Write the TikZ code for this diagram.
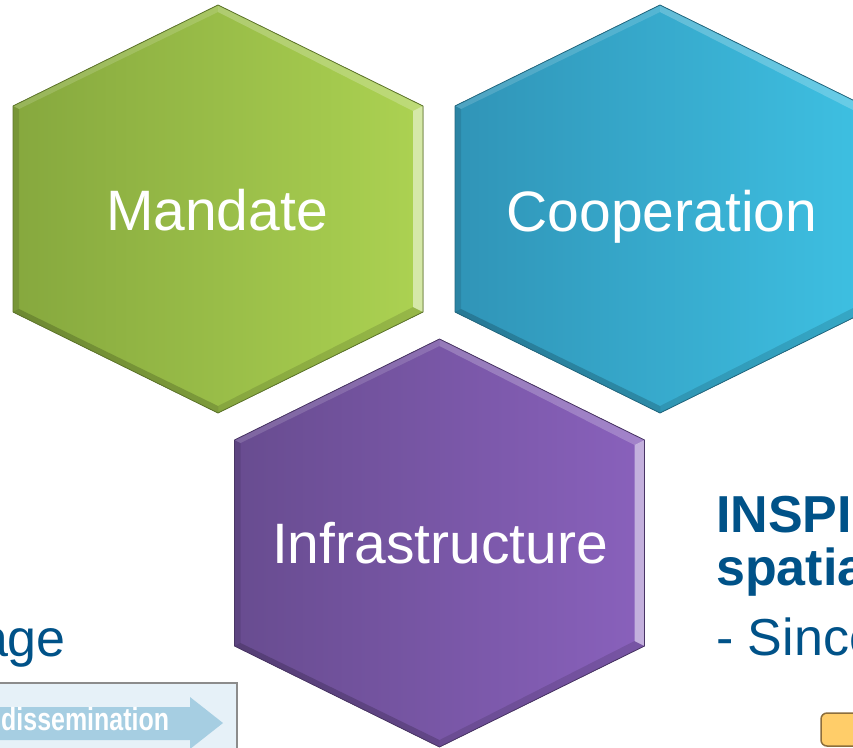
\documentclass[tikz,border=0pt]{standalone}
\usepackage{fontspec}
\setmainfont{Liberation Sans}
\definecolor{gL}{RGB}{134,168,62}
\definecolor{gR}{RGB}{172,210,82}
\definecolor{bL}{RGB}{48,148,183}
\definecolor{bR}{RGB}{62,192,226}
\definecolor{pL}{RGB}{104,76,144}
\definecolor{pR}{RGB}{137,97,188}
\definecolor{txtblue}{RGB}{0,82,136}
\definecolor{boxfill}{RGB}{230,241,248}
\definecolor{boxline}{RGB}{140,140,140}
\definecolor{arrowblue}{RGB}{166,206,226}
\definecolor{orangeF}{RGB}{255,205,105}
\definecolor{orangeD}{RGB}{140,110,60}
\newcommand\drawhex[4]{%
\begin{scope}[shift={(#1,#2)}]
 \coordinate (O1) at (0,-204);
 \coordinate (O2) at (205,-103);
 \coordinate (O3) at (205,103);
 \coordinate (O4) at (0,204);
 \coordinate (O5) at (-205,103);
 \coordinate (O6) at (-205,-103);
 \coordinate (I1) at (0,-197);
 \coordinate (I2) at (195,-98);
 \coordinate (I3) at (195,98);
 \coordinate (I4) at (0,197);
 \coordinate (I5) at (-199,100);
 \coordinate (I6) at (-199,-100);
 \fill[left color=#3,right color=#4] (O1)--(O2)--(O3)--(O4)--(O5)--(O6)--cycle;
 \fill[white,opacity=.15] (O6)--(O1)--(I1)--(I6)--cycle;
 \fill[white,opacity=.22] (O1)--(O2)--(I2)--(I1)--cycle;
 \fill[white,opacity=.5] (O2)--(O3)--(I3)--(I2)--cycle;
 \fill[black,opacity=.12] (O3)--(O4)--(I4)--(I3)--cycle;
 \fill[black,opacity=.18] (O4)--(O5)--(I5)--(I4)--cycle;
 \fill[black,opacity=.1] (O5)--(O6)--(I6)--(I5)--cycle;
 \draw[#3!70!black,line width=.8pt,line join=round] (O1)--(O2)--(O3)--(O4)--(O5)--(O6)--cycle;
\end{scope}}
\begin{document}
\begin{tikzpicture}[x=1pt,y=-1pt,
  hexlabel/.style={text=white,font=\fontsize{57}{68}\selectfont,inner sep=0pt,anchor=base},
  sidetext/.style={text=txtblue,font=\fontsize{52}{62}\selectfont,inner sep=0pt},
  sidebold/.style={sidetext,font=\fontsize{52}{62}\selectfont\bfseries}]
\useasboundingbox (0,0) rectangle (853,747);
\clip (0,0) rectangle (853,747);
\fill[white] (0,0) rectangle (853,747);
% hexagons
\drawhex{218}{209}{gL}{gR}
\drawhex{660}{209}{bL}{bR}
\drawhex{439.5}{543}{pL}{pR}
\node[hexlabel] (mandate) at (217,230) {Mandate};
\node[hexlabel] (cooperation) at (662,231) {Cooperation};
\node[hexlabel] (infrastructure) at (440,563) {Infrastructure};
% side texts
\node[sidetext,anchor=base east] (age) at (66,656) {age};
\node[sidebold,anchor=base west] (inspi) at (716,532) {INSPI};
\node[sidebold,anchor=base west] (spatia) at (716,585) {spatia};
\node[sidetext,anchor=base west] (since) at (716,655) {- Since};
% dissemination box
\draw[fill=boxfill,draw=boxline,line width=1.5pt] (-5,683) rectangle (237,760);
\fill[arrowblue] (-5,707) -- (190,707) -- (190,697) -- (223,723) -- (190,749) -- (190,740) -- (-5,740) -- cycle;
\node[text=white,font=\fontsize{32}{38}\selectfont\bfseries,inner sep=0pt,anchor=base west] (dissem) at (1,730) {\scalebox{0.78}[1]{dissemination}};
% orange box
\draw[fill=orangeF,draw=orangeD,line width=1.5pt,rounded corners=6pt] (821,713) rectangle (880,746);
\end{tikzpicture}
\end{document}
